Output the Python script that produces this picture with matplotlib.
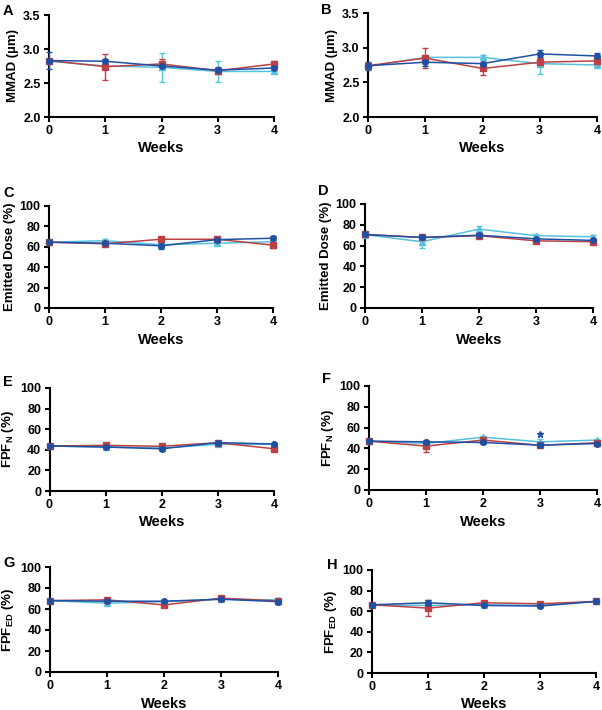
import matplotlib
matplotlib.use('Agg')
import matplotlib.pyplot as plt

plt.rcParams['font.family'] = ['Liberation Sans', 'DejaVu Sans']
plt.rcParams['font.weight'] = 'bold'
plt.rcParams['mathtext.fontset'] = 'custom'
plt.rcParams['mathtext.rm'] = 'Liberation Sans:bold'
plt.rcParams['mathtext.bf'] = 'Liberation Sans:bold'

weeks = [0, 1, 2, 3, 4]

# panel A - MMAD
a_red = [2.83, 2.74, 2.78, 2.68, 2.78]
a_red_err = [0.03, 0.19, 0.07, 0.03, 0.05]
a_cyan = [2.82, 2.75, 2.73, 2.67, 2.67]
a_cyan_err = [0.03, 0.03, 0.21, 0.16, 0.02]
a_blue = [2.83, 2.82, 2.75, 2.69, 2.72]
a_blue_err = [0.12, 0.03, 0.05, 0.04, 0.03]

# panel B - MMAD
b_red = [2.74, 2.85, 2.70, 2.79, 2.81]
b_red_err = [0.03, 0.14, 0.10, 0.06, 0.06]
b_cyan = [2.73, 2.86, 2.86, 2.77, 2.75]
b_cyan_err = [0.03, 0.03, 0.03, 0.15, 0.02]
b_blue = [2.74, 2.79, 2.77, 2.91, 2.88]
b_blue_err = [0.06, 0.06, 0.05, 0.05, 0.04]

# panel C - emitted dose
c_red = [64.5, 63.0, 67.4, 67.4, 61.6]
c_red_err = [1.0, 1.0, 1.0, 2.0, 3.0]
c_cyan = [64.5, 66.0, 62.0, 63.5, 65.0]
c_cyan_err = [1.0, 1.5, 1.5, 1.5, 1.5]
c_blue = [64.5, 63.5, 61.0, 67.0, 68.4]
c_blue_err = [1.0, 1.0, 3.0, 2.0, 2.0]

# panel D - emitted dose
d_red = [70.7, 67.8, 69.5, 64.6, 63.7]
d_red_err = [1.0, 1.0, 1.5, 1.5, 2.0]
d_cyan = [70.5, 63.7, 75.9, 69.5, 68.5]
d_cyan_err = [1.0, 5.7, 3.0, 1.5, 2.0]
d_blue = [70.7, 67.8, 70.0, 66.5, 65.0]
d_blue_err = [1.0, 1.0, 1.5, 1.0, 1.5]

# panel E - FPF N
e_red = [43.7, 44.3, 43.4, 46.9, 41.0]
e_red_err = [1.0, 1.5, 1.0, 1.0, 1.5]
e_cyan = [43.7, 42.7, 41.7, 45.3, 45.3]
e_cyan_err = [1.0, 1.0, 1.0, 1.5, 1.0]
e_blue = [43.7, 42.7, 41.0, 47.0, 45.6]
e_blue_err = [1.0, 1.0, 1.0, 1.0, 1.0]

# panel F - FPF N
f_red = [47.0, 42.2, 48.0, 43.0, 45.4]
f_red_err = [1.0, 6.0, 1.0, 1.0, 1.0]
f_cyan = [47.0, 44.7, 50.8, 46.3, 48.0]
f_cyan_err = [1.0, 1.0, 1.0, 3.0, 1.0]
f_blue = [47.0, 46.3, 45.7, 43.1, 44.7]
f_blue_err = [1.0, 1.0, 1.0, 1.0, 1.0]
f_star = [3, 54.3]

# panel G - FPF ED
g_red = [68.0, 68.7, 63.9, 70.3, 67.7]
g_red_err = [1.0, 2.0, 1.0, 1.0, 1.0]
g_cyan = [68.0, 65.5, 67.0, 69.3, 68.7]
g_cyan_err = [1.0, 1.5, 1.0, 1.0, 2.0]
g_blue = [68.0, 67.4, 67.4, 69.3, 67.0]
g_blue_err = [1.0, 1.0, 1.0, 1.0, 2.0]

# panel H - FPF ED
h_red = [66.2, 63.0, 68.2, 67.2, 69.5]
h_red_err = [1.0, 7.8, 1.0, 1.0, 1.0]
h_cyan = [66.0, 65.6, 66.2, 65.6, 69.5]
h_cyan_err = [1.0, 1.0, 1.0, 1.0, 1.0]
h_blue = [66.2, 68.2, 65.6, 65.0, 69.5]
h_blue_err = [1.0, 3.0, 1.0, 1.0, 1.0]

red = '#BC4044'
cyan = '#56C2DC'
blue = '#1F50A2'

W, H = 602, 710
fig = plt.figure(figsize=(W / 100, H / 100), dpi=100)


def box(l, t, r, b):
    return [l / W, 1 - b / H, (r - l) / W, (b - t) / H]


def panel(rect, letter, lxy, ylab, ylim, yticks, yfmt, data):
    ax = fig.add_axes(box(*rect))
    for vals, err, col, mk in data:
        ax.errorbar(weeks, vals, yerr=err, color=col, marker=mk, markersize=4,
                    lw=1.1, elinewidth=1.0, capsize=2.5, capthick=1.0,
                    clip_on=False, zorder=3)
    ax.set_xlim(0, 4)
    ax.set_ylim(*ylim)
    ax.set_xticks(weeks)
    ax.set_yticks(yticks)
    ax.set_yticklabels([yfmt.format(v) for v in yticks])
    ax.spines['top'].set_visible(False)
    ax.spines['right'].set_visible(False)
    for s in ['left', 'bottom']:
        ax.spines[s].set_linewidth(1.5)
    ax.tick_params(width=1.5, length=3.5, labelsize=9, pad=2.5)
    ax.set_xlabel('Weeks', fontsize=10.5, fontweight='bold', labelpad=3)
    ax.set_ylabel(ylab, fontsize=9.5, fontweight='bold', labelpad=3)
    fig.text(lxy[0] / W, 1 - lxy[1] / H, letter, fontsize=10.5, fontweight='bold',
             va='top', ha='left')
    return ax


def trio(r, re, c, ce, b, be):
    return [(c, ce, cyan, '^'), (r, re, red, 's'), (b, be, blue, 'o')]


mm_ticks = [2.0, 2.5, 3.0, 3.5]
pc_ticks = [0, 20, 40, 60, 80, 100]
fpfn = r'FPF$_\mathbf{N}$ (%)'
fpfed = r'FPF$_\mathbf{ED}$ (%)'

panel((49, 15, 274, 117), 'A', (3, 4), 'MMAD (µm)', (2.0, 3.5), mm_ticks, '{:.1f}',
      trio(a_red, a_red_err, a_cyan, a_cyan_err, a_blue, a_blue_err))
panel((368, 13, 597, 117), 'B', (321, 3), 'MMAD (µm)', (2.0, 3.5), mm_ticks, '{:.1f}',
      trio(b_red, b_red_err, b_cyan, b_cyan_err, b_blue, b_blue_err))
panel((49, 206, 273, 308), 'C', (3, 186), 'Emitted Dose (%)', (0, 100), pc_ticks, '{:d}',
      trio(c_red, c_red_err, c_cyan, c_cyan_err, c_blue, c_blue_err))
panel((365, 204, 593, 308), 'D', (318, 184), 'Emitted Dose (%)', (0, 100), pc_ticks, '{:d}',
      trio(d_red, d_red_err, d_cyan, d_cyan_err, d_blue, d_blue_err))
panel((49.5, 388, 274, 491), 'E', (3, 375), fpfn, (0, 100), pc_ticks, '{:d}',
      trio(e_red, e_red_err, e_cyan, e_cyan_err, e_blue, e_blue_err))
axf = panel((369, 386, 597, 490), 'F', (322, 372), fpfn, (0, 100), pc_ticks, '{:d}',
            trio(f_red, f_red_err, f_cyan, f_cyan_err, f_blue, f_blue_err))
axf.plot(f_star[0], f_star[1], marker='*', color=blue, markersize=5, ls='none')
panel((50, 567, 278, 672), 'G', (3, 556), fpfed, (0, 100), pc_ticks, '{:d}',
      trio(g_red, g_red_err, g_cyan, g_cyan_err, g_blue, g_blue_err))
panel((372, 570, 596, 673), 'H', (327, 558), fpfed, (0, 100), pc_ticks, '{:d}',
      trio(h_red, h_red_err, h_cyan, h_cyan_err, h_blue, h_blue_err))

fig.savefig('out.png', dpi=100)
